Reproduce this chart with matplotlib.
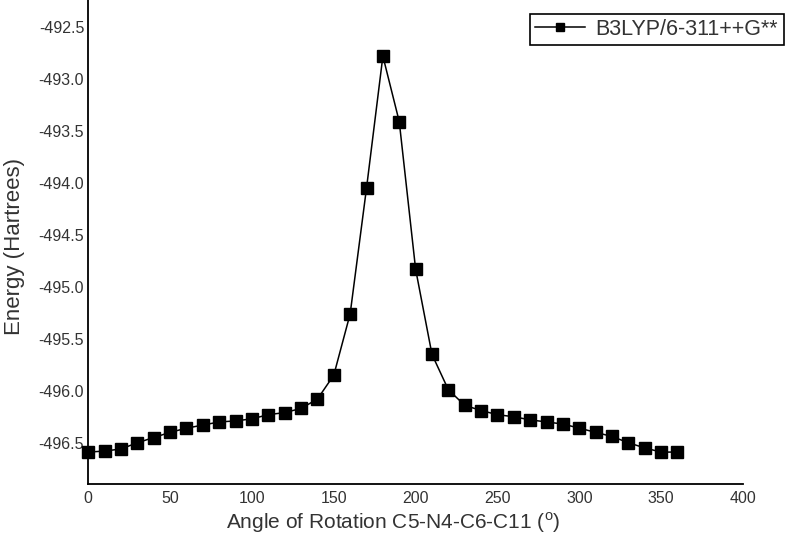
import matplotlib
matplotlib.use("Agg")
import matplotlib.pyplot as plt

# torsion scan
angle = [0, 10, 20, 30, 40, 50, 60, 70, 80, 90, 100, 110, 120, 130, 140, 150,
         160, 170, 180, 190, 200, 210, 220, 230, 240, 250, 260, 270, 280, 290,
         300, 310, 320, 330, 340, 350, 360]
energy = [-496.59, -496.58, -496.56, -496.50, -496.45, -496.40, -496.36, -496.33,
          -496.30, -496.29, -496.27, -496.23, -496.21, -496.17, -496.08, -495.85,
          -495.26, -494.05, -492.78, -493.41, -494.83, -495.65, -495.99, -496.14,
          -496.19, -496.23, -496.25, -496.28, -496.30, -496.32, -496.36, -496.40,
          -496.44, -496.50, -496.55, -496.59, -496.59]
xticks = [0, 50, 100, 150, 200, 250, 300, 350, 400]
yticks = [-496.5, -496.0, -495.5, -495.0, -494.5, -494.0, -493.5, -493.0, -492.5]
series_label = "B3LYP/6-311++G**"

plt.rcParams['font.family'] = ['Liberation Sans', 'DejaVu Sans']
txt = '#333333'

fig = plt.figure(figsize=(7.87, 5.43), dpi=100)
ax = fig.add_axes([0.1122, 0.1081, 0.8318, 0.8919])

ax.plot(angle, energy, color='black', lw=1.1, marker='s', markersize=8.5,
        label=series_label, clip_on=False)

ax.set_xlim(0, 400)
ax.set_ylim(-496.9, -492.24)
ax.set_xticks(xticks)
ax.set_yticks(yticks)
ax.set_yticklabels(["%.1f" % v for v in yticks])
ax.tick_params(length=0, labelsize=11.5, colors=txt)
ax.tick_params(axis='y', pad=3)
ax.tick_params(axis='x', pad=5)

ax.spines['top'].set_visible(False)
ax.spines['right'].set_visible(False)
ax.spines['left'].set_linewidth(1.3)
ax.spines['bottom'].set_linewidth(1.3)

ax.set_xlabel("Angle of Rotation C5-N4-C6-C11 ($^{\\mathregular{o}}$)", fontsize=15,
              color=txt)
ax.xaxis.set_label_coords(0.466, -0.053)
ax.set_ylabel("Energy (Hartrees)", fontsize=16, color=txt)
ax.yaxis.set_label_coords(-0.097, 0.49)

leg = ax.legend(loc='upper right', bbox_to_anchor=(1.062, 0.972), fancybox=False,
                edgecolor='black', fontsize=15.5, markerscale=0.6, handlelength=2.3,
                borderpad=0.25, borderaxespad=0, handletextpad=0.5, framealpha=1)
leg.get_frame().set_linewidth(1.2)
for t in leg.get_texts():
    t.set_color(txt)

fig.savefig("out.png", dpi=100)
